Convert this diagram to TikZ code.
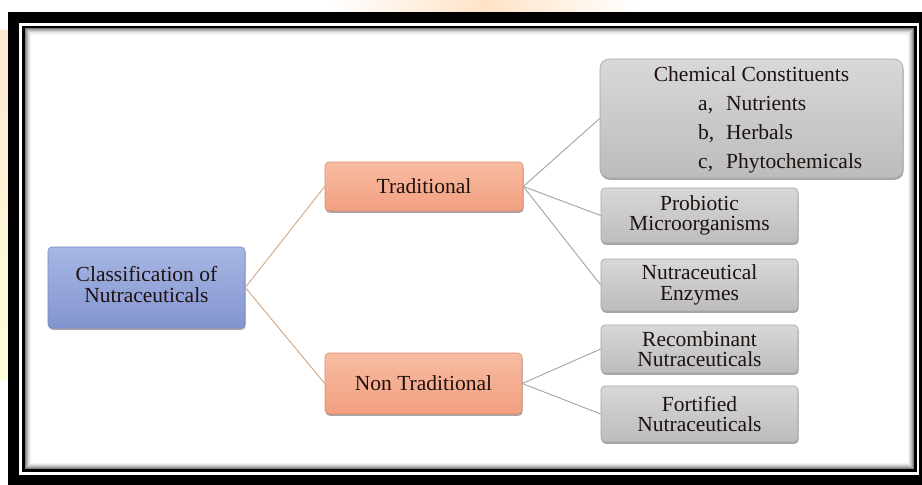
\documentclass[tikz,border=0pt]{standalone}
\usepackage{fontspec}
\setmainfont{Liberation Serif}
\usetikzlibrary{shadows}
\definecolor{txt}{HTML}{1E1210}
\definecolor{bluetop}{HTML}{A7B6E4}
\definecolor{bluebot}{HTML}{8395CF}
\definecolor{blueedge}{HTML}{7A8BC2}
\definecolor{ortop}{HTML}{F8BCA2}
\definecolor{orbot}{HTML}{F29F80}
\definecolor{oredge}{HTML}{D98E72}
\definecolor{grtop}{HTML}{D8D8D8}
\definecolor{grbot}{HTML}{BCBCBC}
\definecolor{gredge}{HTML}{A5A5A5}
\definecolor{tanline}{HTML}{D2A67E}
\definecolor{greyline}{HTML}{A3A3A3}
\begin{document}
\begin{tikzpicture}[x=1pt,y=-1pt,
  box/.style={rectangle, rounded corners=4pt, inner sep=0pt, align=center,
    text=txt, font=\fontsize{21.5}{20.5}\selectfont, line width=0.6pt,
    drop shadow={shadow xshift=0.6pt, shadow yshift=-1.8pt, opacity=0.35, fill=black}},
  bluebox/.style={box, top color=bluetop, bottom color=bluebot, draw=blueedge},
  orbox/.style={box, top color=ortop, bottom color=orbot, draw=oredge},
  grbox/.style={box, top color=grtop, bottom color=grbot, draw=gredge},
  txtnode/.style={inner sep=0pt, text=txt, font=\fontsize{21.5}{20.5}\selectfont},
  tanlink/.style={draw=tanline, line width=0.9pt},
  greylink/.style={draw=greyline, line width=0.9pt}
]
\useasboundingbox (0,0) rectangle (922,485);
\fill[white] (0,0) rectangle (922,485);
% faint watermark behind the frame
\shade[left color=white, right color=white, middle color=orange!22] (330,0) rectangle (640,12);
\shade[top color=orange!18, bottom color=yellow!14] (0,30) rectangle (8,380);
% frame
\fill[black] (8,12) rectangle (922,485);
\fill[white] (19,23) rectangle (919,475);
\foreach \d/\c in {2/50,3/38,4/27,5/18,6/10,7/5}
  \draw[black!\c, line width=1.1pt] ({23.5+\d},{27+\d}) rectangle ({915.5-\d},{470.5-\d});
\draw[black, line width=2.6pt] (23.5,27) rectangle (915.5,470.5);

% nodes
\node[bluebox, minimum width=197pt, minimum height=81pt] (cls) at (146.5,287.5) {\raisebox{3pt}{\begin{tabular}{@{}c@{}}Classification of\\Nutraceuticals\end{tabular}}};
\node[orbox, minimum width=198pt, minimum height=49pt] (trad) at (424,186.5) {Traditional};
\node[orbox, minimum width=197pt, minimum height=61pt] (nont) at (423.5,383.5) {Non Traditional};
\node[grbox, rounded corners=9pt, minimum width=303pt, minimum height=119pt] (chem) at (751.5,118.5) {};
\node[grbox, minimum width=197pt, minimum height=55pt] (prob) at (699.5,215.5) {Probiotic\\Microorganisms};
\node[grbox, minimum width=197pt, minimum height=52pt] (enz) at (699.5,285) {Nutraceutical\\Enzymes};
\node[grbox, minimum width=197pt, minimum height=48pt] (rec) at (699.5,349) {Recombinant\\Nutraceuticals};
\node[grbox, minimum width=197pt, minimum height=56pt] (fort) at (699.5,414) {Fortified\\Nutraceuticals};

% contents of the chemical constituents box
\node[txtnode, anchor=base] (chemtitle) at (751.5,81) {Chemical Constituents};
\node[txtnode, anchor=base west] (chema) at (698,110) {\makebox[28pt][l]{a,}Nutrients};
\node[txtnode, anchor=base west] (chemb) at (698,139) {\makebox[28pt][l]{b,}Herbals};
\node[txtnode, anchor=base west] (chemc) at (698,168) {\makebox[28pt][l]{c,}Phytochemicals};

% connectors
\draw[tanlink] (cls.east) -- (trad.west);
\draw[tanlink] (cls.east) -- (nont.west);
\draw[greylink] (trad.east) -- (chem.west);
\draw[greylink] (trad.east) -- (prob.west);
\draw[greylink] (trad.east) -- (enz.west);
\draw[greylink] (nont.east) -- (rec.west);
\draw[greylink] (nont.east) -- (fort.west);
\end{tikzpicture}
\end{document}
